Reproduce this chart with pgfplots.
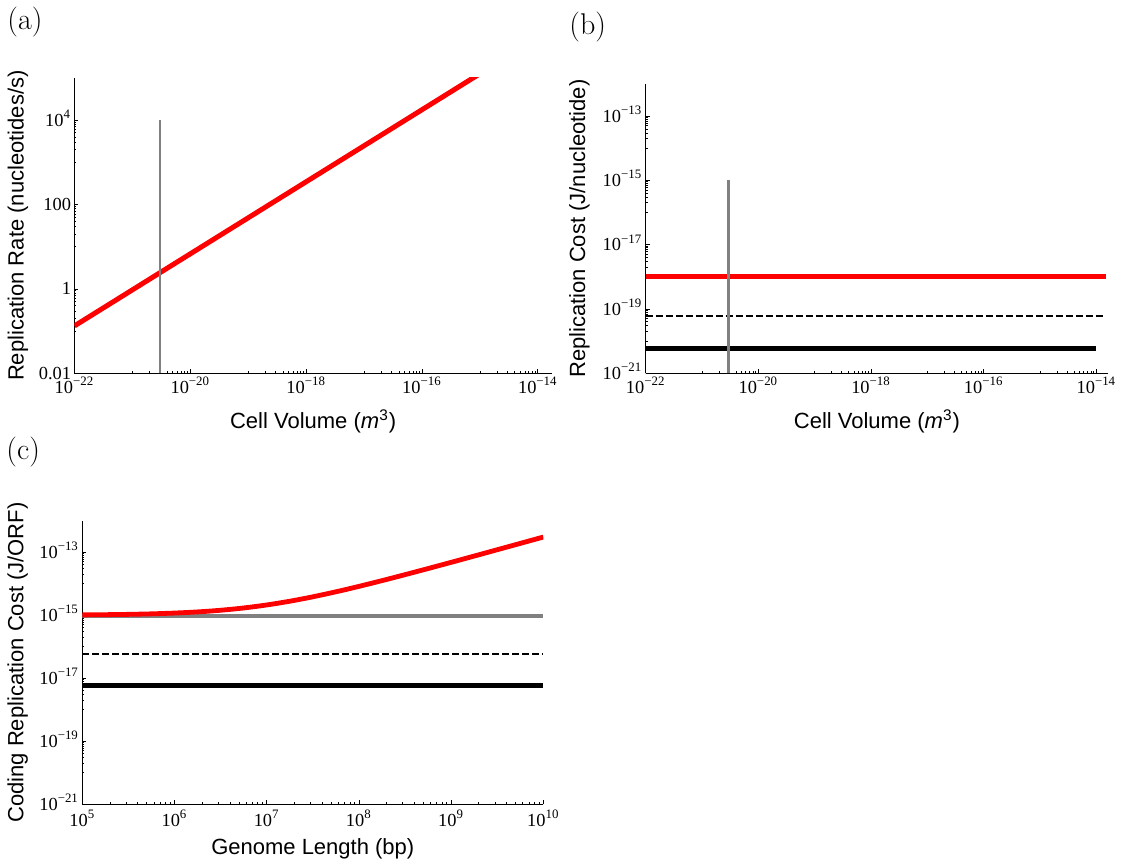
\documentclass[border=0pt]{standalone}
\usepackage{fontspec}
\setsansfont{Liberation Sans}
\newfontfamily\tms{Liberation Serif}
\usepackage{pgfplots}
\pgfplotsset{compat=1.18}
\definecolor{mred}{RGB}{255,0,0}
\definecolor{mgray}{RGB}{128,128,128}
\newcommand{\E}[1]{10\textsuperscript{#1}}
\pgfplotsset{
  mstyle/.style={
    scale only axis, anchor=south west,
    axis lines=left, axis line style={-, line width=0.5pt, black},
    tick align=inside,
    major tick length=2pt, minor tick length=1pt,
    every tick/.append style={black, line width=0.4pt},
    tick label style={font=\tms\fontsize{9.2}{10}\selectfont, inner sep=0pt},
    yticklabel style={anchor=base east, xshift=-1.5pt, yshift=-3pt},
    xticklabel style={anchor=base},
    label style={font=\sffamily\fontsize{11}{13}\selectfont},
    ylabel style={at={(axis description cs:0,0.5)}, anchor=center},
    xlabel style={at={(axis description cs:0.5,0)}, anchor=base},
    clip=true,
  },
  cellx/.style={
    xmin=1e-22,
    xtick={1e-22,1e-20,1e-18,1e-16,1e-14},
    xticklabels={\E{−22},\E{−20},\E{−18},\E{−16},\E{−14}},
    minor xtick={1e-21,2e-21,3e-21,4e-21,5e-21,6e-21,7e-21,8e-21,9e-21,
                 1e-19,2e-19,3e-19,4e-19,5e-19,6e-19,7e-19,8e-19,9e-19,
                 1e-17,2e-17,3e-17,4e-17,5e-17,6e-17,7e-17,8e-17,9e-17,
                 1e-15,2e-15,3e-15,4e-15,5e-15,6e-15,7e-15,8e-15,9e-15},
  },
  costy/.style={
    ymin=1e-21, ymax=1e-12,
    ytick={1e-21,1e-19,1e-17,1e-15,1e-13},
    yticklabels={\E{−21},\E{−19},\E{−17},\E{−15},\E{−13}},
    minor ytick={1e-20,2e-20,3e-20,4e-20,5e-20,6e-20,7e-20,8e-20,9e-20,
                 1e-18,2e-18,3e-18,4e-18,5e-18,6e-18,7e-18,8e-18,9e-18,
                 1e-16,2e-16,3e-16,4e-16,5e-16,6e-16,7e-16,8e-16,9e-16,
                 1e-14,2e-14,3e-14,4e-14,5e-14,6e-14,7e-14,8e-14,9e-14},
  },
}
\begin{document}
\begin{tikzpicture}
\useasboundingbox (0,0) rectangle (563pt,432.5pt);

% (a)
\begin{loglogaxis}[mstyle, cellx,
  at={(37.25pt,245.85pt)}, width=238.65pt, height=147.65pt,
  xmax=1.74e-14, ymin=0.01, ymax=1e5,
  ytick={0.01,1,100,10000},
  yticklabels={0.01,1,100,\E{4}},
  minor ytick={0.1,0.2,0.3,0.4,0.5,0.6,0.7,0.8,0.9,
               10,20,30,40,50,60,70,80,90,
               1000,2000,3000,4000,5000,6000,7000,8000,9000},
  xticklabel style={yshift=-10pt},
  xlabel style={yshift=-27.5pt},
  ylabel style={yshift=28.25pt},
  xlabel={Cell Volume (\textit{m}\textsuperscript{3})},
  ylabel={Replication Rate (nucleotides/s)},
]
\addplot[mred, line width=2.5pt] coordinates {(1e-22,0.133) (1e-20,6.79) (1e-18,347) (1e-16,1.77e4) (1e-14,9.04e5)};
\addplot[mgray, line width=1.3pt] coordinates {(3.0e-21,0.01) (3.0e-21,1e4)};
\end{loglogaxis}

% (b)
\begin{loglogaxis}[mstyle, cellx, costy,
  at={(322.85pt,245.85pt)}, width=231.25pt, height=144.65pt,
  xmax=1.62e-14,
  xticklabel style={yshift=-10pt},
  xlabel style={yshift=-27.5pt},
  ylabel style={yshift=33.1pt},
  xlabel={Cell Volume (\textit{m}\textsuperscript{3})},
  ylabel={Replication Cost (J/nucleotide)},
]
\addplot[mred, line width=2.4pt] coordinates {(1e-22,1e-18) (1.5e-14,1e-18)};
\addplot[black, line width=1pt, dash pattern=on 3.5pt off 1.5pt] coordinates {(1e-22,6e-20) (1.35e-14,6e-20)};
\addplot[black, line width=2.3pt] coordinates {(1e-22,5.8e-21) (1e-14,5.8e-21)};
\addplot[mgray, line width=1.3pt] coordinates {(2.95e-21,1e-21) (2.95e-21,1e-15)};
\end{loglogaxis}

% (c)
\begin{loglogaxis}[mstyle, costy,
  at={(41.15pt,30.3pt)}, width=230.5pt, height=141.85pt,
  xmin=1e5, xmax=1e10,
  xtick={1e5,1e6,1e7,1e8,1e9,1e10},
  xticklabels={\E{5},\E{6},\E{7},\E{8},\E{9},\E{10}},
  minor xtick={2e5,3e5,4e5,5e5,6e5,7e5,8e5,9e5,
               2e6,3e6,4e6,5e6,6e6,7e6,8e6,9e6,
               2e7,3e7,4e7,5e7,6e7,7e7,8e7,9e7,
               2e8,3e8,4e8,5e8,6e8,7e8,8e8,9e8,
               2e9,3e9,4e9,5e9,6e9,7e9,8e9,9e9},
  xticklabel style={yshift=-11pt},
  xlabel style={yshift=-25.3pt},
  ylabel style={yshift=32.35pt},
  xlabel={Genome Length (bp)},
  ylabel={Coding Replication Cost (J/ORF)},
]
\addplot[mgray, line width=2.3pt] coordinates {(1e5,9.5e-16) (1e10,9.5e-16)};
\addplot[black, line width=1pt, dash pattern=on 3.5pt off 1.5pt] coordinates {(1e5,5.8e-17) (1e10,5.8e-17)};
\addplot[black, line width=2.3pt] coordinates {(1e5,5.8e-18) (1e10,5.8e-18)};
\addplot[mred, line width=2.4pt, smooth] coordinates {
  (1e5,1.027e-15) (1.78e5,1.043e-15) (3.16e5,1.068e-15) (5.62e5,1.109e-15)
  (1e6,1.174e-15) (1.78e6,1.277e-15) (3.16e6,1.441e-15) (5.62e6,1.703e-15)
  (1e7,2.121e-15) (1.78e7,2.787e-15) (3.16e7,3.85e-15) (5.62e7,5.54e-15)
  (1e8,8.24e-15) (1.78e8,1.254e-14) (3.16e8,1.94e-14) (5.62e8,3.03e-14)
  (1e9,4.77e-14) (1.78e9,7.55e-14) (3.16e9,1.197e-13) (5.62e9,1.903e-13)
  (1e10,3.03e-13)};
\end{loglogaxis}

\node[font=\fontsize{15}{18}\selectfont, inner sep=0pt] at (12.5pt,421.65pt) {(a)};
\node[font=\fontsize{15}{18}\selectfont, inner sep=0pt] at (293.85pt,418.75pt) {(b)};
\node[font=\fontsize{15}{18}\selectfont, inner sep=0pt] at (11.6pt,206.25pt) {(c)};
\end{tikzpicture}
\end{document}
